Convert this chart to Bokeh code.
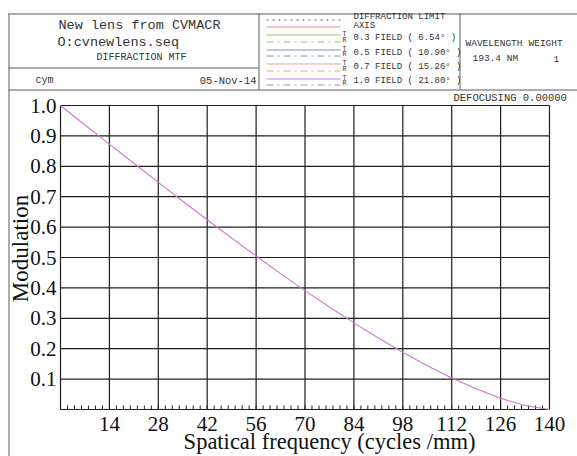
import math
from bokeh.plotting import figure
from bokeh.models import Range1d
from bokeh.core.properties import value
from bokeh.embed import file_html
from bokeh.resources import INLINE

# ---- data ----
freq = [0, 7, 14, 21, 28, 35, 42, 49, 56, 63, 70, 77, 84, 91, 98, 105, 112, 119, 126, 133, 140]
mtf = [1.0, 0.936, 0.873, 0.810, 0.747, 0.685, 0.624, 0.564, 0.505, 0.447, 0.391,
       0.337, 0.285, 0.235, 0.188, 0.144, 0.104, 0.068, 0.037, 0.013, 0.0]
x_ticks = [14, 28, 42, 56, 70, 84, 98, 112, 126, 140]
x_tick_labels = ["14", "28", "42", "56", "70", "84", "98", "112", "126", "140"]
y_ticks = [0.1, 0.2, 0.3, 0.4, 0.5, 0.6, 0.7, 0.8, 0.9, 1.0]
y_tick_labels = ["0.1", "0.2", "0.3", "0.4", "0.5", "0.6", "0.7", "0.8", "0.9", "1.0"]
x_minor = list(range(2, 140, 2))
x_min, x_max = 0, 140
y_min, y_max = 0.0, 1.0

legend_names = ["DIFFRACTION LIMIT", "AXIS", "0.3 FIELD ( 6.54\u00b0 )", "0.5 FIELD ( 10.90\u00b0 )",
                "0.7 FIELD ( 15.26\u00b0 )", "1.0 FIELD ( 21.80\u00b0 )"]
legend_colors = ["#555555", "#f08a78", "#88cf70", "#7f8fd0", "#f29c98", "#b585d8"]

MONO = value("Liberation Mono")
SERIF = value("Liberation Serif")
LINE_C = "#5a5a5a"
TXT_C = "#333333"
GRID_C = "#1e1e1e"

# ---- canvas geometry: plot area in pixels ----
W, H = 577, 456
PL, PR, PT, PB = 60, 549, 105, 409
sxk = (PR - PL) / (x_max - x_min)
syk = (PB - PT) / (y_max - y_min)
xs0 = x_min - PL / sxk
xs1 = x_max + (W - PR) / sxk
ys1 = y_max + PT / syk
ys0 = y_min - (H - PB) / syk


def X(px):
    return xs0 + px / sxk


def Y(py):
    return ys1 - py / syk


p = figure(width=W, height=H, x_range=Range1d(xs0, xs1), y_range=Range1d(ys0, ys1),
           output_backend="svg", toolbar_location=None, min_border=0,
           x_axis_location=None, y_axis_location=None)
p.grid.visible = False
p.outline_line_color = None
p.background_fill_color = "white"
p.border_fill_color = "white"

# ---- header frame lines ----
hx0 = [8, 8, 8.5, 8, 258.5, 459.5]
hy0 = [13.5, 89.5, 13, 67.5, 13, 13]
hx1 = [W, W, 8.5, 258, 258.5, 459.5]
hy1 = [13.5, 89.5, H, 67.5, 89, 89]
p.segment(x0=[X(v) for v in hx0], y0=[Y(v) for v in hy0],
          x1=[X(v) for v in hx1], y1=[Y(v) for v in hy1],
          line_color=LINE_C, line_width=1)


def txt(px, py, s, size, align="left", font=MONO, color=TXT_C, angle=0.0):
    p.text(x=[X(px)], y=[Y(py)], text=[s], text_font=font, text_font_size=size,
           text_baseline="middle", text_align=align, text_color=color, angle=angle)


txt(58, 25, "New lens from CVMACR", "13.5px")
txt(57, 42, "O:cvnewlens.seq", "13.5px")
txt(96, 57, "DIFFRACTION MTF", "10px")
txt(35, 80, "cym", "10px")
txt(256, 80, "05-Nov-14", "10.5px", align="right")

# legend sample lines
lx0, lx1 = X(266), X(340)
p.line(x=[lx0, lx1], y=[Y(19.5)] * 2, line_color=legend_colors[0], line_dash="2 4", line_width=1)
p.line(x=[lx0, lx1], y=[Y(26.5)] * 2, line_color=legend_colors[1], line_width=1)
row_T = [34.5, 49.5, 63.5, 78.5]
row_R = [41.5, 55.5, 70.5, 84.5]
for i in range(4):
    c = legend_colors[i + 2]
    p.line(x=[lx0, lx1], y=[Y(row_T[i])] * 2, line_color=c, line_width=1)
    p.line(x=[lx0, lx1], y=[Y(row_R[i])] * 2, line_color=c, line_width=1, line_dash="7 4 2 4")
    txt(342, row_T[i] - 0.5, "T", "6.5px")
    txt(342, row_R[i] - 1.5, "R", "6.5px")

legend_y = [16.5, 25.5, 37.5, 52, 66.5, 80.5]
for s, ly in zip(legend_names, legend_y):
    txt(353, ly, s, "9px")

txt(465, 43, "WAVELENGTH", "9.5px")
txt(528, 43, "WEIGHT", "9.5px")
txt(472, 58, "193.4 NM", "9.5px")
txt(553, 58, "1", "9.5px")
txt(453, 97, "DEFOCUSING 0.00000", "10.5px")

# ---- plot grid, axes and ticks (data coordinates) ----
gx = [x_min] + x_ticks
p.segment(x0=gx, y0=[y_min] * len(gx), x1=gx, y1=[y_max] * len(gx),
          line_color=GRID_C, line_width=1.2)
gy = [y_min] + y_ticks
p.segment(x0=[x_min] * len(gy), y0=gy, x1=[x_max] * len(gy), y1=gy,
          line_color=GRID_C, line_width=1.2)
tick_len = 4 / syk
p.segment(x0=x_minor, y0=[y_min] * len(x_minor), x1=x_minor,
          y1=[y_min + tick_len] * len(x_minor), line_color=GRID_C, line_width=1)

# MTF curve
p.line(x=freq, y=mtf, line_color="#cc78cc", line_width=1.1)

# tick labels
p.text(x=x_ticks, y=[Y(423)] * len(x_ticks), text=x_tick_labels, text_font=SERIF,
       text_font_size="21px", text_align="center", text_baseline="middle", text_color="#111111")
p.text(x=[X(56)] * len(y_ticks), y=y_ticks, text=y_tick_labels, text_font=SERIF,
       text_font_size="21px", text_align="right", text_baseline="middle", text_color="#111111")

# axis titles
txt(329, 441, "Spatical frequency (cycles /mm)", "22.5px", align="center", font=SERIF, color="#111111")
txt(20, 248, "Modulation", "23px", align="center", font=SERIF, color="#111111", angle=math.pi / 2)

open("out.html", "w").write(file_html(p, INLINE))
